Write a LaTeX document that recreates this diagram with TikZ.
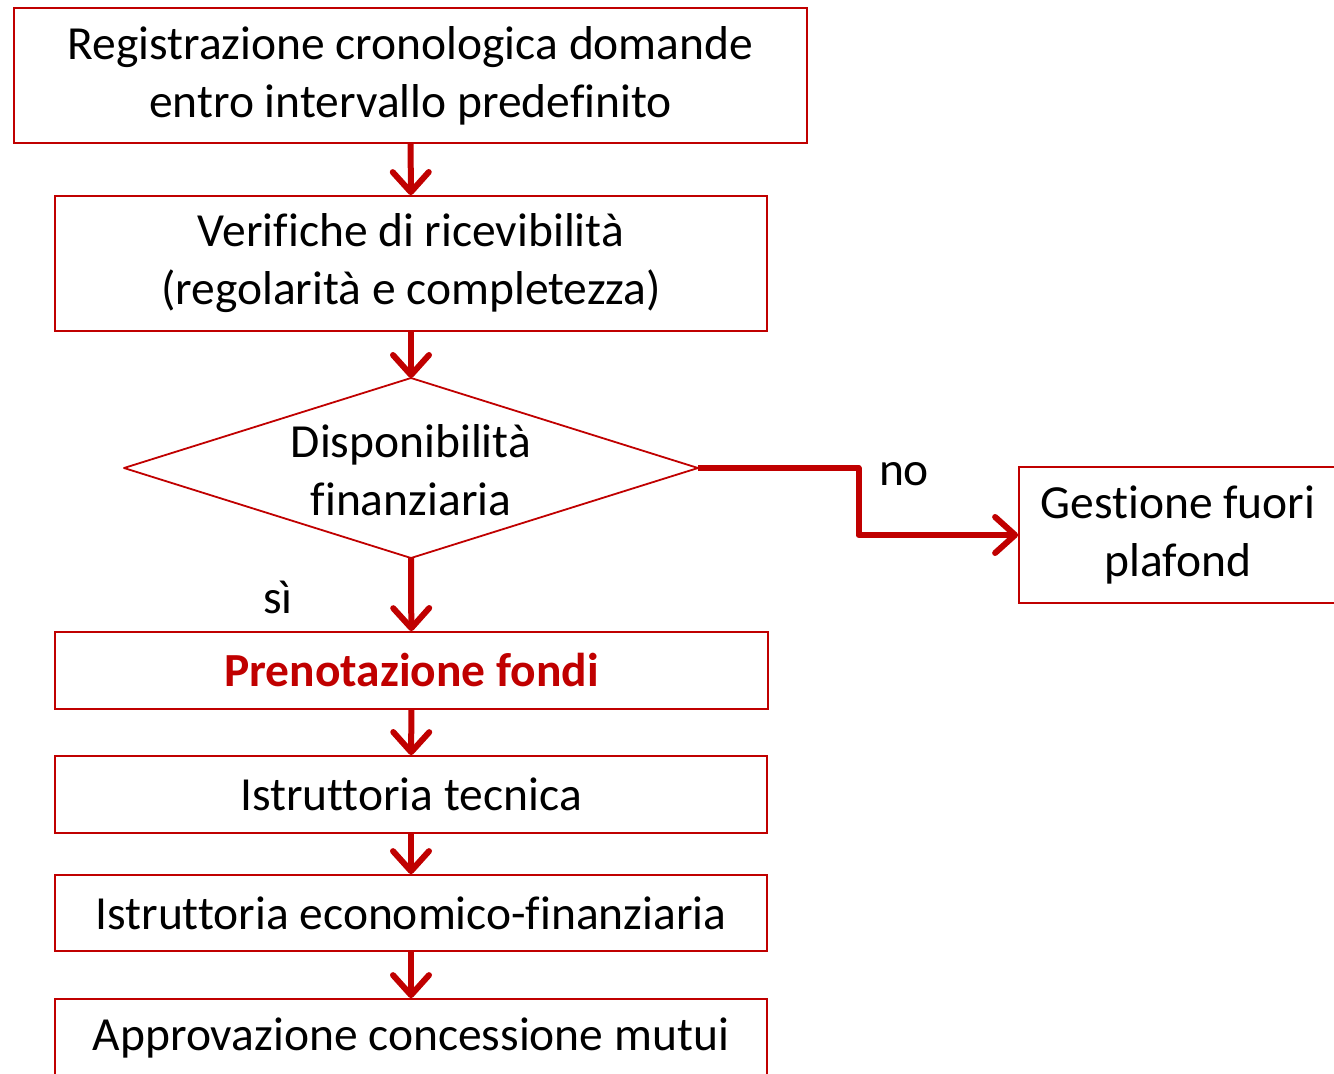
\documentclass[tikz,border=0pt]{standalone}
\usepackage{fontspec}
\setmainfont{Carlito}[Ligatures=NoCommon]
\usetikzlibrary{arrows.meta}
\definecolor{fluxred}{HTML}{C00000}

\begin{document}
\begin{tikzpicture}[-, x=1pt, y=-1pt,
    font=\fontsize{47.5}{58}\selectfont,
    box/.style={draw=fluxred, line width=1.8pt, align=center, inner sep=0pt},
    flow/.style={draw=fluxred, line width=6pt, line join=round,
        -{Straight Barb[length=20pt, width=36pt, round]}}]
    \useasboundingbox (0,0) rectangle (1334,1074);
    \clip (0,0) rectangle (1334,1074);

    \node[box, minimum width=793pt, minimum height=135pt](Reg) at (410.5, 75.5)
        {Registrazione cronologica domande\\entro intervallo predefinito};
    \node[box, minimum width=712pt, minimum height=135pt](Ver) at (411, 263.5)
        {Verifiche di ricevibilità\\(regolarità e completezza)};

    \node[align=center, inner sep=0pt](Disp) at (411, 470) {Disponibilità\\finanziaria};
    \coordinate (Disp_t) at (411, 378);
    \coordinate (Disp_b) at (411, 558);
    \coordinate (Disp_l) at (124, 468);
    \coordinate (Disp_r) at (698, 468);
    \draw[fluxred, line width=1.8pt, line join=round] (Disp_l) -- (Disp_t) -- (Disp_r) -- (Disp_b) -- cycle;

    \node[box, minimum width=713pt, minimum height=77pt, text=fluxred, font=\fontsize{47.5}{58}\selectfont\bfseries](Pren) at (411.5, 670.5)
        {Prenotazione fondi};
    \node[box, minimum width=712pt, minimum height=77pt](Tec) at (411, 794.5) {Istruttoria tecnica};
    \node[box, minimum width=712pt, minimum height=76pt](Eco) at (411, 913) {Istruttoria economico-finanziaria};
    \node[box, minimum width=712pt, minimum height=77pt](Appr) at (411, 1037.5) {Approvazione concessione mutui};

    \node[box, minimum width=318pt, minimum height=136pt](Gest) at (1178, 535) {Gestione fuori\\plafond};

    \path[flow] (Reg) edge (Ver);
    \path[flow] (Ver) edge (Disp_t);
    \draw[flow] (Disp_b) -- (Pren);
    \path[flow] (Pren) edge (Tec);
    \path[flow] (Tec) edge (Eco);
    \path[flow] (Eco) edge (Appr);

    \coordinate (Knee) at (858.5, 468);
    \draw[flow] (Disp_r) -- (Knee) |- (Gest.west);

    \node(Si) at (278, 597) {sì};
    \node(No) at (904, 474) {no};

\end{tikzpicture}
\end{document}
